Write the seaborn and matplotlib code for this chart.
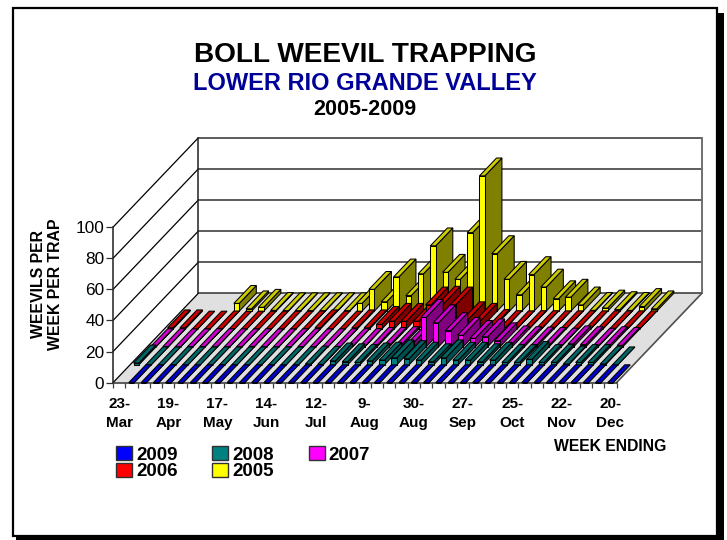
#!/usr/bin/env python
# -*- coding: utf-8 -*-
"""Boll weevil trapping chart, Excel style oblique 3D columns."""

import numpy as np
import pandas as pd
import matplotlib
matplotlib.use("Agg")
import matplotlib.pyplot as plt
from matplotlib.patches import Polygon, Rectangle
from matplotlib.transforms import Affine2D
import seaborn as sns

nan = np.nan

weeks = list(range(41))
week_labels = {0: "23-\nMar", 4: "19-\nApr", 8: "17-\nMay", 12: "14-\nJun", 16: "12-\nJul", 20: "9-\nAug",
               24: "30-\nAug", 28: "27-\nSep", 32: "25-\nOct", 36: "22-\nNov", 40: "20-\nDec"}

y2009 = [nan, 0, 0, 0, 0, 0, 0, 0, 0, 0, 0, 0, 0, 0, 0, 0, 0, 0, 0, 0, 0,
         0, 0, 0, 0, 0, 0, 0, 0, 0, 0, 0, 0, 0, 0, 0, 0, 0, 0, 0, 0]
y2008 = [1.2, 0, 0, 0, 0, 0, 0, 0, 0, 0, 0, 0, 0, 0, 0.5, 0.3, 2.5, 2, 1.5, 2.5, 3,
         4.5, 4, 3, 2, 4.5, 3, 3, 2, 3, 1.5, 1.5, 3.5, 1.5, 1.5, 0.5, 1.5, 1.5, 0.5, 0, nan]
y2007 = [0.2, 0.2, 0.1, 0.1, 0.2, 0.2, 0.1, 0.1, 0.2, 0.1, 0.1, 0.2, 0.2, 0.1, 0.1, 0.2, 0.2, 0.3, 1, 1, 1.5,
         3, 19, 15.5, 10.5, 7.5, 5.5, 6.5, 4, 2, 1.5, 1.3, 1, 0.5, 2, 1.5, 0.5, 1.5, 1, nan, nan]
y2006 = [0.8, 0.8, 0, 0, 0.1, 0, 0, 0, 0, 0, 0, 0.1, 0.8, 0, 0, 0.8, 0.8, 3, 5, 5, 5,
         15.5, 16, 15.5, 6, 5, 1, 0.3, 0.2, 0.3, 0.3, 0.2, 0.2, 0.2, 0.2, 0.2, 0.2, 0.2, 0.2, nan, nan]
y2005 = [nan, nan, nan, nan, 5, 1.5, 2.5, 0.5, 0.3, 0.3, 0.3, 0.3, 0.3, 0.3, 5, 14, 6, 22, 10, 24, 42,
         25, 20.5, 50.5, 87, 37, 20.5, 10.5, 23.5, 15.5, 8, 9, 4, 0.5, 2, 1, 0.5, 3, 1.5, nan, nan]

# back row first, like the drawing order
series_names = ["2005", "2006", "2007", "2008", "2009"]
series_values = [y2005, y2006, y2007, y2008, y2009]
front_colors = ["#FFFF00", "#FF0000", "#FF00FF", "#008080", "#0000FF"]
top_colors = ["#CCCC00", "#CC0000", "#CC00CC", "#006666", "#0000CC"]
side_colors = ["#808000", "#800000", "#800080", "#004D4D", "#000080"]

DEPTH_WEEKS = 6.95
DEPTH_VALUE = 57.5
ROW = 0.2
BAR_W = 0.44
EDGE = 0.75


def project(week, depth, value):
    return week + depth * DEPTH_WEEKS, value + depth * DEPTH_VALUE


def run():
    sns.set_theme(style="ticks")
    plt.rcParams["font.family"] = ["Liberation Sans", "DejaVu Sans"]

    W, H = 727, 540
    fig = plt.figure(figsize=(W / 100, H / 100), dpi=100, facecolor="white")

    # page frame with its drop shadow
    fig.add_artist(Rectangle((16 / W, 0), 708 / W, 527 / H, transform=fig.transFigure,
                             facecolor="black", edgecolor="none", zorder=-3))
    fig.add_artist(Rectangle((12.5 / W, 4.5 / H), 704 / W, 527.5 / H, transform=fig.transFigure,
                             facecolor="white", edgecolor="black", linewidth=1.6, zorder=-2))

    ax = fig.add_axes([113 / W, (H - 382.7) / H, 503.5 / W, 155.5 / H])
    ax.patch.set_visible(False)

    left, right = -0.5, 40.5
    yticks = [0, 20, 40, 60, 80, 100]

    # floor and walls
    ax.add_patch(Polygon([project(left, 0, 0), project(right, 0, 0), project(right, 1, 0), project(left, 1, 0)],
                         closed=True, facecolor="#E0E0E0", edgecolor="none", clip_on=False, zorder=0.1))
    for v in yticks:
        col = "#303030"
        ax.plot(*zip(project(left, 0, v), project(left, 1, v)), color="black", lw=0.9, clip_on=False, zorder=0.3)
        ax.plot(*zip(project(left, 1, v), project(right, 1, v)), color=col, lw=1.1, clip_on=False, zorder=0.3)
    ax.plot(*zip(project(left, 1, 0), project(left, 1, 100)), color="#202020", lw=1.1, clip_on=False, zorder=0.3)
    ax.plot(*zip(project(right, 1, 0), project(right, 1, 100)), color="#707070", lw=1.4, clip_on=False, zorder=0.3)
    ax.plot(*zip(project(right, 0, 0), project(right, 1, 0)), color="#505050", lw=1.2, clip_on=False, zorder=0.3)

    # columns, back row to front, left to right inside a row
    for r, (name, vals) in enumerate(zip(series_names, series_values)):
        depth = (len(series_names) - 1 - r) * ROW
        df = pd.DataFrame({"week": weeks, "value": vals}).dropna()
        n_before = len(ax.patches)
        sns.barplot(data=df, x="week", y="value", order=weeks, color=front_colors[r], saturation=1,
                    width=BAR_W, edgecolor="black", linewidth=EDGE, errorbar=None, ax=ax)
        shift = Affine2D().translate(depth * DEPTH_WEEKS, depth * DEPTH_VALUE) + ax.transData
        bars = [p for p in ax.patches[n_before:] if np.isfinite(p.get_height())]
        for p in bars:
            x0, x1, h = p.get_x(), p.get_x() + p.get_width(), p.get_height()
            z = 1 + r + x0 / 100
            p.set_transform(shift)
            p.set_clip_on(False)
            p.set_zorder(z + 0.002)
            d0, d1 = depth, depth + ROW
            side = [project(x1, d0, 0), project(x1, d1, 0), project(x1, d1, h), project(x1, d0, h)]
            top = [project(x0, d0, h), project(x1, d0, h), project(x1, d1, h), project(x0, d1, h)]
            ax.add_patch(Polygon(side, closed=True, facecolor=side_colors[r], edgecolor="black",
                                 linewidth=EDGE, clip_on=False, zorder=z))
            ax.add_patch(Polygon(top, closed=True, facecolor=top_colors[r], edgecolor="black",
                                 linewidth=EDGE, clip_on=False, zorder=z + 0.001))

    ax.set_xlim(left, right)
    ax.set_ylim(0, 100)
    sns.despine(ax=ax, top=True, right=True)
    ax.spines["left"].set_color("#202020")
    ax.spines["bottom"].set_color("#303030")
    ax.spines["left"].set_linewidth(1.1)
    ax.spines["bottom"].set_linewidth(1.1)
    ax.spines["left"].set_zorder(0.4)
    ax.spines["bottom"].set_zorder(0.4)

    ax.set_xticks(list(week_labels.keys()))
    ax.set_xticklabels(list(week_labels.values()), fontsize=11, fontweight="bold",
                       color="black", linespacing=1.4)
    ax.set_xticks(np.arange(left, right + 1), minor=True)
    ax.tick_params(axis="x", which="major", length=0, pad=10.5)
    ax.tick_params(axis="x", which="minor", length=3.6, width=0.9, color="#404040")
    ax.set_yticks(yticks)
    ax.tick_params(axis="y", length=5.3, width=0.9, color="#303030", labelsize=12.4, labelcolor="black", pad=1)
    ax.set_xlabel("")
    ax.set_ylabel("WEEVILS PER\nWEEK PER TRAP", fontsize=11.4, fontweight="bold", color="black", linespacing=1.2)
    ax.yaxis.set_label_coords((63 - 113) / 504, (382 - 284) / 155)

    # titles and notes
    fig.text(365 / W, (H - 62) / H, "BOLL WEEVIL TRAPPING", ha="center", va="baseline",
             fontsize=20.2, fontweight="bold", color="black")
    fig.text(365 / W, (H - 90) / H, "LOWER RIO GRANDE VALLEY", ha="center", va="baseline",
             fontsize=17, fontweight="bold", color="#000099")
    fig.text(365 / W, (H - 115) / H, "2005-2009", ha="center", va="baseline",
             fontsize=15.5, fontweight="bold", color="black")
    fig.text(610 / W, (H - 451) / H, "WEEK ENDING", ha="center", va="baseline",
             fontsize=11.3, fontweight="bold", color="black")

    # legend fills column by column
    order = [4, 1, 3, 0, 2]
    handles = [Rectangle((0, 0), 1, 1, facecolor=front_colors[i], edgecolor="#303030", linewidth=1) for i in order]
    fig.legend(handles, [series_names[i] for i in order], ncol=3, loc="upper left",
               bbox_to_anchor=(116 / W, (H - 446) / H), frameon=False, borderpad=0, borderaxespad=0,
               prop={"size": 13.5, "weight": "bold"}, handlelength=0.85, handleheight=0.8,
               handletextpad=0.22, columnspacing=1.85, labelspacing=-0.05, labelcolor="black")

    fig.savefig("out.png", dpi=100)
    plt.close(fig)


if __name__ == "__main__":
    run()
